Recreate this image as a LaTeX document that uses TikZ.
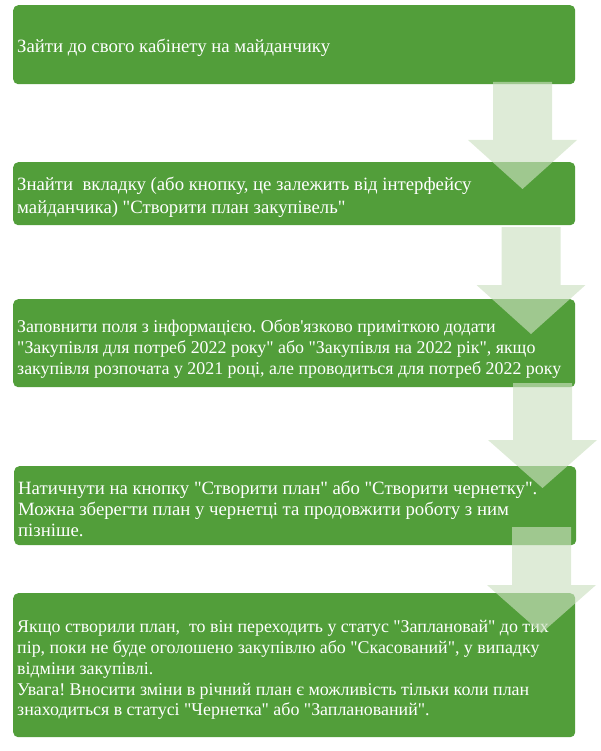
\documentclass[tikz,border=0pt]{standalone}
\usepackage{fontspec}
\setmainfont{Liberation Serif}[Ligatures=TeXOff]
\definecolor{boxgreen}{RGB}{82,158,58}
\definecolor{arrowgreen}{RGB}{203,224,192}
\frenchspacing
\begin{document}
\begin{tikzpicture}[x=1pt,y=-1pt,
  stepbox/.style={fill=boxgreen, rounded corners=5pt, inner sep=0pt, anchor=north west},
  steptext/.style={anchor=west, align=left, text=white, inner sep=0pt,
    font=\rmfamily\fontsize{18.75}{20.8}\selectfont},
  smalltext/.style={steptext, font=\rmfamily\fontsize{17.9}{20.8}\selectfont},
  blockarrow/.style={fill=arrowgreen, fill opacity=0.64}]
\useasboundingbox (0,0) rectangle (600,751);
% boxes
\node[stepbox, minimum width=562pt, minimum height=79pt] (b1) at (13,5) {};
\node[stepbox, minimum width=562pt, minimum height=63pt] (b2) at (13,162) {};
\node[stepbox, minimum width=562pt, minimum height=88pt] (b3) at (13,299) {};
\node[stepbox, minimum width=562pt, minimum height=79pt] (b4) at (14,466) {};
\node[stepbox, minimum width=562pt, minimum height=144pt] (b5) at (13,593) {};
% texts
\node[steptext] (t1) at (17,48) {Зайти до свого кабінету на майданчику};
\node[steptext, font=\rmfamily\fontsize{18.75}{23}\selectfont] (t2) at (17,197.5) {Знайти\ \ вкладку (або кнопку, це залежить від інтерфейсу\\майданчика) "Створити план закупівель"};
\node[smalltext] (t3) at (17,349) {Заповнити поля з інформацією. Обов'язково приміткою додати\\"Закупівля для потреб 2022 року" або "Закупівля на 2022 рік", якщо\\закупівля розпочата у 2021 році, але проводиться для потреб 2022 року};
\node[steptext] (t4) at (18,509) {Натичнути на кнопку "Створити план" або "Створити чернетку".\\Можна зберегти план у чернетці та продовжити роботу з ним\\пізніше.};
\node[smalltext] (t5) at (17,670) {Якщо створили план,\ \ то він переходить у статус "Заплановай" до тих\\пір, поки не буде оголошено закупівлю або "Скасований", у випадку\\відміни закупівлі.\\Увага! Вносити зміни в річний план є можливість тільки коли план\\знаходиться в статусі "Чернетка" або "Запланований".};
% block arrows
\newcommand\downblock[4]{%
  \fill[blockarrow] (#1-29.5,#2) -- (#1+29.5,#2) -- (#1+29.5,#3) -- (#1+54.5,#3)
    -- (#1,#4) -- (#1-54.5,#3) -- (#1-29.5,#3) -- cycle;}
\downblock{522.5}{82}{140}{189}
\downblock{531}{227}{285}{334}
\downblock{542.5}{383}{440}{488}
\downblock{541.5}{527}{585}{633}
\end{tikzpicture}
\end{document}
